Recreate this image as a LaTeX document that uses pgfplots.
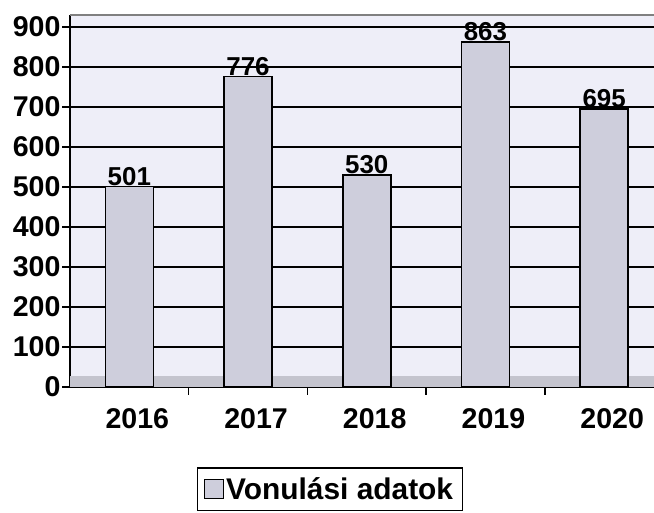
\documentclass[border=0pt]{standalone}
\usepackage{pgfplots}
\pgfplotsset{compat=1.18}
\usepackage{fontspec}
\setmainfont{Liberation Sans}
\definecolor{bgc}{RGB}{238,238,248}
\definecolor{barc}{RGB}{206,206,220}
\definecolor{floorc}{RGB}{196,196,206}
\begin{document}
\begin{tikzpicture}
\begin{axis}[
  name=ax,
  scale only axis,
  width=438bp, height=279bp,
  xmin=-0.5, xmax=4.42,
  ymin=0, ymax=930,
  ytick={0,100,...,900},
  xtick={0,1,2,3,4},
  xticklabels={2016,2017,2018,2019,2020},
  minor xtick={0.5,1.5,2.5,3.5},
  major x tick style={draw=none},
  ytick align=outside,
  xtick align=outside,
  major tick length=6bp,
  minor tick length=6bp,
  ytick style={draw=black, line width=1.2pt},
  minor x tick style={draw=black, line width=1.2pt},
  axis x line*=bottom,
  axis y line*=left,
  axis line style={black, line width=1.3pt, -},
  ymajorgrids,
  grid style={black, line width=1.2pt},
  axis background/.style={fill=bgc},
  /pgf/number format/assume math mode=true,
  yticklabel style={font=\bfseries\fontsize{21.5}{21.5}\selectfont, inner xsep=1bp},
  xticklabel style={font=\bfseries\fontsize{21.5}{21.5}\selectfont, yshift=-7bp, xshift=6bp},
  ybar,
  bar width=36bp,
  nodes near coords,
  nodes near coords style={font=\bfseries\fontsize{19.5}{19.5}\selectfont, inner sep=0.3pt, anchor=south},
  legend style={at={(0.445,-0.215)}, anchor=north, draw=black, line width=1.2pt,
    font=\bfseries\fontsize{22.5}{22.5}\selectfont, inner sep=5bp},
  legend image code/.code={\draw[fill=barc, draw=black, line width=0.6pt] (0bp,-7bp) rectangle (14bp,7bp);},
]
\fill[floorc] (axis cs:-0.5,0) rectangle (axis cs:4.42,28);
\draw[gray, line width=1pt] (axis cs:-0.5,930) -- (axis cs:4.42,930);
\addplot[fill=barc, draw=black, line width=1.2pt] coordinates {(0,501) (1,776) (2,530) (3,863) (4,695)};
\addlegendentry{Vonulási adatok}
\end{axis}
\pgfresetboundingbox
\useasboundingbox ([xshift=-52.5bp,yshift=-94.5bp]ax.south west) rectangle ([yshift=11.25bp]ax.north east);
\end{tikzpicture}
\end{document}
